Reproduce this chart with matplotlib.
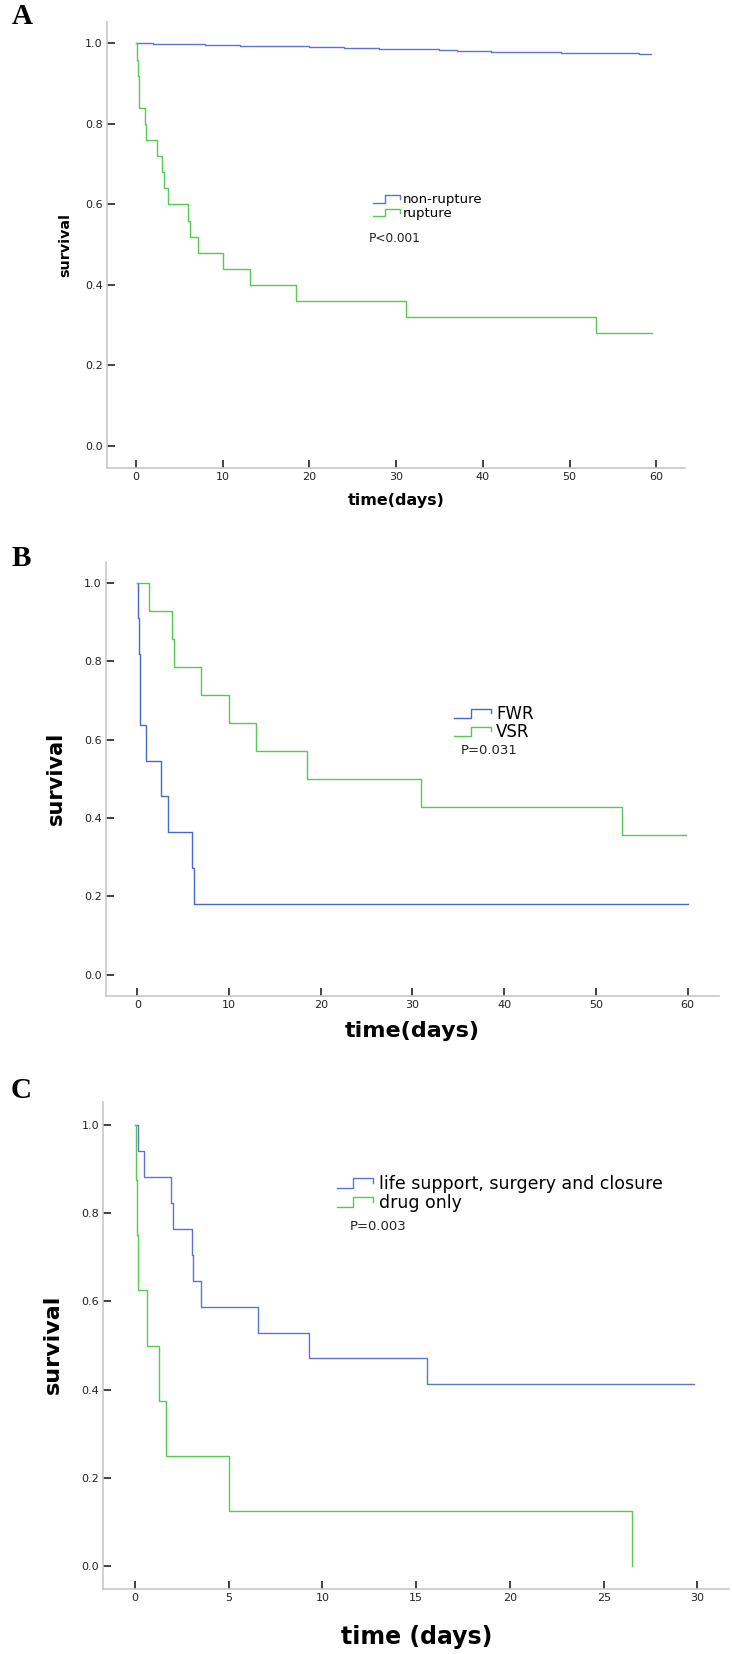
"""
Kaplan-Meier curves, three stacked panels (A, B, C)
"""
import matplotlib
matplotlib.use('Agg')
import matplotlib.pyplot as plt
from matplotlib.lines import Line2D
from matplotlib.legend_handler import HandlerBase

W, H = 732, 1654

# panel A: non-rupture vs rupture
a_nonrup_t = [0, 2, 4, 8, 12, 16, 20, 24, 28, 35, 37, 41, 43, 46, 49, 56, 58, 59.4]
a_nonrup_s = [1.0, 0.999, 0.998, 0.997, 0.995, 0.993, 0.991, 0.989, 0.986, 0.984,
              0.981, 0.980, 0.979, 0.978, 0.977, 0.976, 0.974, 0.973]
a_rup_t = [0, 0.1, 0.2, 0.3, 1.0, 1.2, 2.4, 3.0, 3.2, 3.7, 6.0, 6.2, 7.1, 10.0,
           13.1, 18.5, 31.1, 53.1, 59.5]
a_rup_s = [1.0, 0.96, 0.92, 0.84, 0.80, 0.76, 0.72, 0.68, 0.64, 0.60, 0.56, 0.52,
           0.48, 0.44, 0.40, 0.36, 0.32, 0.28, 0.28]

# panel B: FWR vs VSR
b_fwr_t = [0, 0.1, 0.2, 0.25, 0.3, 1.0, 2.6, 3.3, 6.0, 6.2, 60]
b_fwr_s = [1.0, 0.909, 0.818, 0.727, 0.636, 0.545, 0.455, 0.364, 0.273, 0.182, 0.182]
b_vsr_t = [0, 1.3, 3.75, 4.0, 7.0, 10.0, 13.0, 18.5, 30.9, 52.9, 59.8]
b_vsr_s = [1.0, 0.929, 0.857, 0.786, 0.714, 0.643, 0.571, 0.5, 0.429, 0.357, 0.357]

# panel C: treatment groups
c_life_t = [0, 0.18, 0.5, 1.9, 2.03, 3.04, 3.09, 3.52, 6.54, 9.3, 15.56, 29.8]
c_life_s = [1.0, 0.941, 0.882, 0.824, 0.765, 0.706, 0.647, 0.588, 0.529, 0.471,
            0.412, 0.412]
c_drug_t = [0, 0.05, 0.13, 0.18, 0.64, 1.28, 1.64, 5.03, 26.5]
c_drug_s = [1.0, 0.875, 0.75, 0.625, 0.5, 0.375, 0.25, 0.125, 0.0]

y_ticks = [0.0, 0.2, 0.4, 0.6, 0.8, 1.0]
y_ticklabels = ['0.0', '0.2', '0.4', '0.6', '0.8', '1.0']


def fx(px):
    return px / W


def fy(py):
    return 1 - py / H


class StepHandler(HandlerBase):
    # little step glyph like the SPSS legend
    def create_artists(self, legend, orig_handle, xdescent, ydescent,
                       width, height, fontsize, trans):
        x0 = -xdescent
        x1 = x0 + width
        xm = x0 + 0.45 * width
        ylo = -ydescent + 0.1 * height
        yhi = -ydescent + 0.9 * height
        ln = Line2D([x0, xm, xm, x1, x1], [ylo, ylo, yhi, yhi, 0.5 * (ylo + yhi)],
                    color=orig_handle.get_color(), lw=orig_handle.get_linewidth(),
                    transform=trans)
        return [ln]


def panel(fig, box, xlim, ylim, xticks):
    left, right, top, bottom = box
    ax = fig.add_axes([fx(left), fy(bottom), fx(right) - fx(left), fy(top) - fy(bottom)])
    ax.set_xlim(*xlim)
    ax.set_ylim(*ylim)
    for s in ['top', 'right']:
        ax.spines[s].set_visible(False)
    for s in ['left', 'bottom']:
        ax.spines[s].set_color('#c8c8c8')
        ax.spines[s].set_linewidth(1.2)
    ax.set_xticks(xticks)
    ax.set_xticklabels([str(t) for t in xticks])
    ax.set_yticks(y_ticks)
    ax.set_yticklabels(y_ticklabels)
    ax.tick_params(direction='in', length=6, width=1.2, color='#222222',
                   labelsize=8, labelcolor='#222222', pad=3)
    return ax


fig = plt.figure(figsize=(W / 100, H / 100), dpi=100)
fig.patch.set_facecolor('white')

blue_a = '#5b76cc'
green = '#55c855'
blue_b = '#4a68c8'
lw = 1.0

# ---- A ----
axA = panel(fig, (107, 685, 22, 467.7), (-3.35, 63.32), (-0.054, 1.0534), [0, 10, 20, 30, 40, 50, 60])
lA1, = axA.step(a_nonrup_t, a_nonrup_s, where='post', color=blue_a, lw=lw)
lA2, = axA.step(a_rup_t, a_rup_s, where='post', color=green, lw=lw)
fig.legend([lA1, lA2], ['non-rupture', 'rupture'], handler_map={Line2D: StepHandler()},
           loc='upper left', bbox_to_anchor=(fx(372.7), fy(193.5)), frameon=False,
           borderpad=0, borderaxespad=0, handlelength=2.05, handletextpad=0.2,
           labelspacing=0.05, fontsize=9.5)
fig.text(fx(369), fy(238.5), 'P<0.001', fontsize=8.7, ha='left', va='center', color='#222222')
fig.text(fx(65), fy(245), 'survival', rotation=90, fontsize=10.3, fontweight='bold',
         ha='center', va='center')
fig.text(fx(396), fy(501), 'time(days)', fontsize=11.5, fontweight='bold',
         ha='center', va='center')
fig.text(fx(22), fy(17), 'A', family='Liberation Serif', fontsize=21, fontweight='bold',
         ha='center', va='center')

# ---- B ----
axB = panel(fig, (106, 718.7, 561.7, 995.7), (-3.41, 63.4), (-0.053, 1.0535), [0, 10, 20, 30, 40, 50, 60])
lB1, = axB.step(b_fwr_t, b_fwr_s, where='post', color=blue_b, lw=lw)
lB2, = axB.step(b_vsr_t, b_vsr_s, where='post', color=green, lw=lw)
fig.legend([lB1, lB2], ['FWR', 'VSR'], handler_map={Line2D: StepHandler()},
           loc='upper left', bbox_to_anchor=(fx(454.3), fy(705)), frameon=False,
           borderpad=0, borderaxespad=0, handlelength=2.2, handletextpad=0.3,
           labelspacing=0.0, fontsize=12)
fig.text(fx(460.3), fy(750), 'P=0.031', fontsize=9.5, ha='left', va='center', color='#222222')
fig.text(fx(56), fy(778), 'survival', rotation=90, fontsize=15, fontweight='bold',
         ha='center', va='center')
fig.text(fx(412), fy(1031), 'time(days)', fontsize=16, fontweight='bold',
         ha='center', va='center')
fig.text(fx(21.5), fy(558), 'B', family='Liberation Serif', fontsize=21, fontweight='bold',
         ha='center', va='center')

# ---- C ----
axC = panel(fig, (103.3, 729, 1101.7, 1589.3), (-1.69, 31.68), (-0.0528, 1.053), [0, 5, 10, 15, 20, 25, 30])
lC1, = axC.step(c_life_t, c_life_s, where='post', color=blue_a, lw=lw)
lC2, = axC.step(c_drug_t, c_drug_s, where='post', color=green, lw=lw)
fig.legend([lC1, lC2], ['life support, surgery and closure', 'drug only'],
           handler_map={Line2D: StepHandler()},
           loc='upper left', bbox_to_anchor=(fx(336.7), fy(1175)), frameon=False,
           borderpad=0, borderaxespad=0, handlelength=2.1, handletextpad=0.35,
           labelspacing=0.05, fontsize=12.5)
fig.text(fx(350), fy(1227), 'P=0.003', fontsize=9.5, ha='left', va='center', color='#222222')
fig.text(fx(53), fy(1344), 'survival', rotation=90, fontsize=16, fontweight='bold',
         ha='center', va='center')
fig.text(fx(417), fy(1637), 'time (days)', fontsize=17, fontweight='bold',
         ha='center', va='center')
fig.text(fx(21.5), fy(1091), 'C', family='Liberation Serif', fontsize=21, fontweight='bold',
         ha='center', va='center')

fig.savefig('out.png', dpi=100, facecolor='white')
